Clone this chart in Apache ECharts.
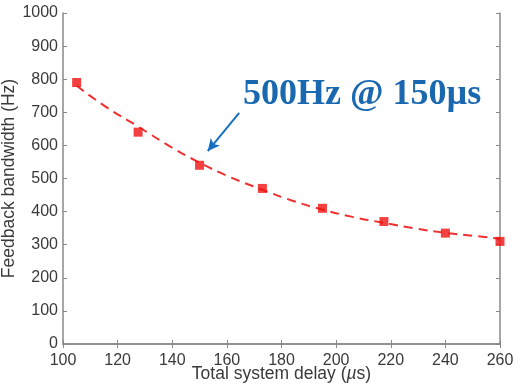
<!DOCTYPE html>
<html><head><meta charset="utf-8">
<script src="https://cdn.jsdelivr.net/npm/echarts@6/dist/echarts.min.js"></script>
<style>html,body{margin:0;padding:0;background:#fff}#c{width:519px;height:390px}</style>
</head><body><div id="c"></div>
<script>
// measured points
var delays = [105, 127.5, 150, 173, 195, 217.5, 240, 260];
var bandwidth = [790, 640, 540, 470, 410, 370, 335, 310];
// dashed fit curve
var fitX = [105, 116, 127.5, 139, 150, 161, 173, 184, 195, 206, 217.5, 229, 240, 250, 260];
var fitY = [780, 715, 657, 598, 548, 505, 466, 433, 406, 384, 366, 349, 336, 327, 318];
var xTicks = [100, 120, 140, 160, 180, 200, 220, 240, 260];
var yTicks = [0, 100, 200, 300, 400, 500, 600, 700, 800, 900, 1000];
var annotationText = '500Hz @ 150\u00b5s';
var arrowFrom = [164.5, 698];
var arrowTo = [153, 583];

var axisCol = '#8a8a8a';
var labCol = '#3a3a3a';
var font = 'Liberation Sans, Arial, sans-serif';
var chart = echarts.init(document.getElementById('c'));
chart.setOption({
  animation: false,
  grid: {left: 63, right: 19, top: 13, bottom: 46, containLabel: false, outerBoundsMode: 'none'},
  xAxis: [{
    type: 'value', min: xTicks[0], max: xTicks[xTicks.length-1], interval: 20,
    name: 'Total system delay ({i|\u00b5}s)', nameLocation: 'middle', nameGap: 21, nameMoveOverlap: false,
    nameTextStyle: {color: labCol, fontSize: 17.5, fontFamily: font, rich: {i: {fontStyle: 'italic', color: labCol, fontSize: 17.5, fontFamily: font}}},
    axisLine: {show: true, lineStyle: {color: axisCol, width: 1.5}},
    axisTick: {inside: true, length: 4, lineStyle: {color: axisCol}},
    axisLabel: {color: labCol, fontSize: 16, fontFamily: font, margin: 9},
    splitLine: {show: false}
  }, {
    type: 'value', position: 'top', min: xTicks[0], max: xTicks[xTicks.length-1], interval: 20,
    axisLine: {show: true, lineStyle: {color: axisCol, width: 1.5}},
    axisTick: {inside: true, length: 4, lineStyle: {color: axisCol}},
    axisLabel: {show: false}, splitLine: {show: false}
  }],
  yAxis: [{
    type: 'value', min: 0, max: 1000, interval: 100,
    name: 'Feedback bandwidth (Hz)', nameLocation: 'middle', nameGap: 45, nameMoveOverlap: false,
    nameTextStyle: {color: labCol, fontSize: 17.5, fontFamily: font},
    axisLine: {show: true, lineStyle: {color: axisCol, width: 1.5}},
    axisTick: {inside: true, length: 4, lineStyle: {color: axisCol}},
    axisLabel: {color: labCol, fontSize: 16, fontFamily: font, margin: 5, formatter: function(v){ return String(v); }},
    splitLine: {show: false}
  }, {
    type: 'value', position: 'right', min: 0, max: 1000, interval: 100,
    axisLine: {show: true, lineStyle: {color: axisCol, width: 1.5}},
    axisTick: {inside: true, length: 4, lineStyle: {color: axisCol}},
    axisLabel: {show: false}, splitLine: {show: false}
  }],
  series: [{
    type: 'line', smooth: true, showSymbol: false,
    data: fitX.map(function(x, i){ return [x, fitY[i]]; }),
    lineStyle: {color: '#f03030', width: 2, type: [9, 6]},
    markLine: {
      silent: true, symbol: ['none', 'arrow'], symbolSize: [9, 12],
      label: {show: false},
      lineStyle: {color: '#1570c0', width: 2, type: 'solid'},
      data: [[{coord: arrowFrom}, {coord: arrowTo}]]
    },
    z: 2
  }, {
    type: 'scatter', symbol: 'rect', symbolSize: 9,
    data: delays.map(function(x, i){ return [x, bandwidth[i]]; }),
    itemStyle: {color: '#f01010'}, z: 3
  }],
  graphic: [{
    type: 'text', left: 243, top: 77,
    style: {text: annotationText, fill: '#1a68b0', font: 'bold 36px "Liberation Serif", "Times New Roman", serif'}
  }]
});
</script></body></html>
